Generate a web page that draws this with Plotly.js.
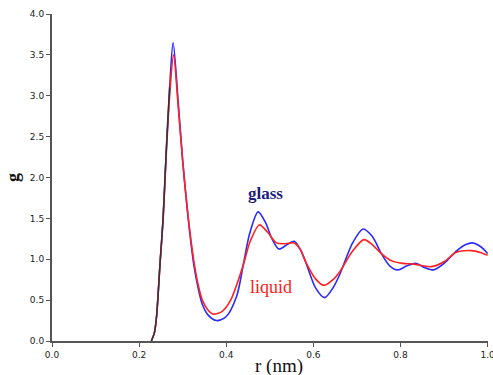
<!DOCTYPE html>
<html>
<head>
<meta charset="utf-8">
<script src="https://cdn.plot.ly/plotly-3.0.1.min.js"></script>
<style>html,body{margin:0;padding:0;background:#fff;}#chart{width:493px;height:375px;}</style>
</head>
<body>
<div id="chart"></div>
<script>
const glassR = [0.228,0.235,0.24,0.248,0.255,0.262,0.27,0.278,0.29,0.30,0.313,0.325,0.335,0.345,0.358,0.378,0.40,0.424,0.439,0.454,0.473,0.49,0.505,0.521,0.54,0.556,0.57,0.584,0.605,0.626,0.645,0.661,0.69,0.714,0.735,0.756,0.775,0.794,0.815,0.835,0.855,0.876,0.90,0.928,0.95,0.965,0.985,1.0];
const glassG = [0,0.1,0.3,0.95,1.5,2.3,3.1,3.65,2.9,2.2,1.48,0.95,0.66,0.45,0.32,0.25,0.3,0.55,0.93,1.32,1.58,1.45,1.25,1.125,1.18,1.22,1.12,0.94,0.65,0.53,0.65,0.82,1.2,1.37,1.28,1.07,0.92,0.87,0.92,0.95,0.9,0.87,0.95,1.1,1.18,1.2,1.15,1.07];
const liquidR = [0.228,0.235,0.24,0.248,0.255,0.262,0.27,0.279,0.29,0.30,0.313,0.325,0.335,0.345,0.358,0.37,0.39,0.41,0.439,0.455,0.476,0.495,0.515,0.535,0.556,0.57,0.584,0.605,0.624,0.645,0.661,0.69,0.716,0.735,0.756,0.78,0.805,0.83,0.851,0.871,0.90,0.928,0.963,0.985,1.0];
const liquidG = [0,0.1,0.3,0.95,1.48,2.25,3.0,3.5,2.85,2.2,1.5,1.0,0.7,0.5,0.38,0.33,0.36,0.5,0.93,1.22,1.42,1.33,1.2,1.19,1.2,1.12,0.95,0.76,0.68,0.75,0.85,1.1,1.24,1.18,1.07,0.98,0.95,0.94,0.92,0.91,0.97,1.085,1.105,1.08,1.05];
const overlapR = [0.228,0.235,0.24,0.248,0.255,0.262,0.27];
const overlapG = [0,0.1,0.3,0.95,1.5,2.3,3.1];
const xTicks = [0,0.2,0.4,0.6,0.8,1.0];
const xTickText = ['0.0','0.2','0.4','0.6','0.8','1.0'];
const yTicks = [0,0.5,1,1.5,2,2.5,3,3.5,4];
const yTickText = ['0.0','0.5','1.0','1.5','2.0','2.5','3.0','3.5','4.0'];
const xTitle = 'r (nm)';
const labels = [
  {text:'glass', x:0.49, y:1.80, color:'#1c1c7c', bold:true, size:17},
  {text:'liquid', x:0.503, y:0.66, color:'#ff1a1a', bold:false, size:18}
];

const traces = [
  {x: glassR, y: glassG, mode:'lines', line:{color:'#2a2aff', width:1.6, shape:'spline', smoothing:0.8}, hoverinfo:'none'},
  {x: liquidR, y: liquidG, mode:'lines', line:{color:'#ff2222', width:1.6, shape:'spline', smoothing:0.8}, hoverinfo:'none'},
  {x: overlapR, y: overlapG, mode:'lines', line:{color:'#333333', width:1.4, shape:'spline', smoothing:0.8}, hoverinfo:'none'}
];

const axisCommon = {
  showgrid:false, zeroline:false, showline:true, linecolor:'#555555', linewidth:2,
  ticks:'outside', ticklen:4, tickwidth:1, tickcolor:'#555555',
  ticklabeloverflow:'allow',
  tickfont:{family:'DejaVu Sans', size:9, color:'#222222'}
};

const layout = {
  width:493, height:375,
  margin:{l:52, r:5, t:14, b:34},
  paper_bgcolor:'#ffffff', plot_bgcolor:'#ffffff',
  showlegend:false,
  xaxis: Object.assign({}, axisCommon, {
    range:[0,1.0008], tickvals:xTicks, ticktext:xTickText
  }),
  yaxis: Object.assign({}, axisCommon, {
    range:[0,4.0], tickvals:yTicks, ticktext:yTickText,
    title:{text:'<b>g</b>', font:{family:'Liberation Serif', size:18, color:'#111111'}, standoff:6}
  }),
  annotations: labels.map(l => ({
    x:l.x, y:l.y, xref:'x', yref:'y', showarrow:false,
    text: l.bold ? '<b>'+l.text+'</b>' : l.text,
    font:{family:'Liberation Serif', size:l.size, color:l.color}
  })).concat([{
    x:0.52, y:-0.075, xref:'paper', yref:'paper', showarrow:false, yanchor:'middle',
    text:xTitle, font:{family:'Liberation Serif', size:19, color:'#111111'}
  }])
};

Plotly.newPlot('chart', traces, layout, {displayModeBar:false, staticPlot:true});
</script>
</body>
</html>
